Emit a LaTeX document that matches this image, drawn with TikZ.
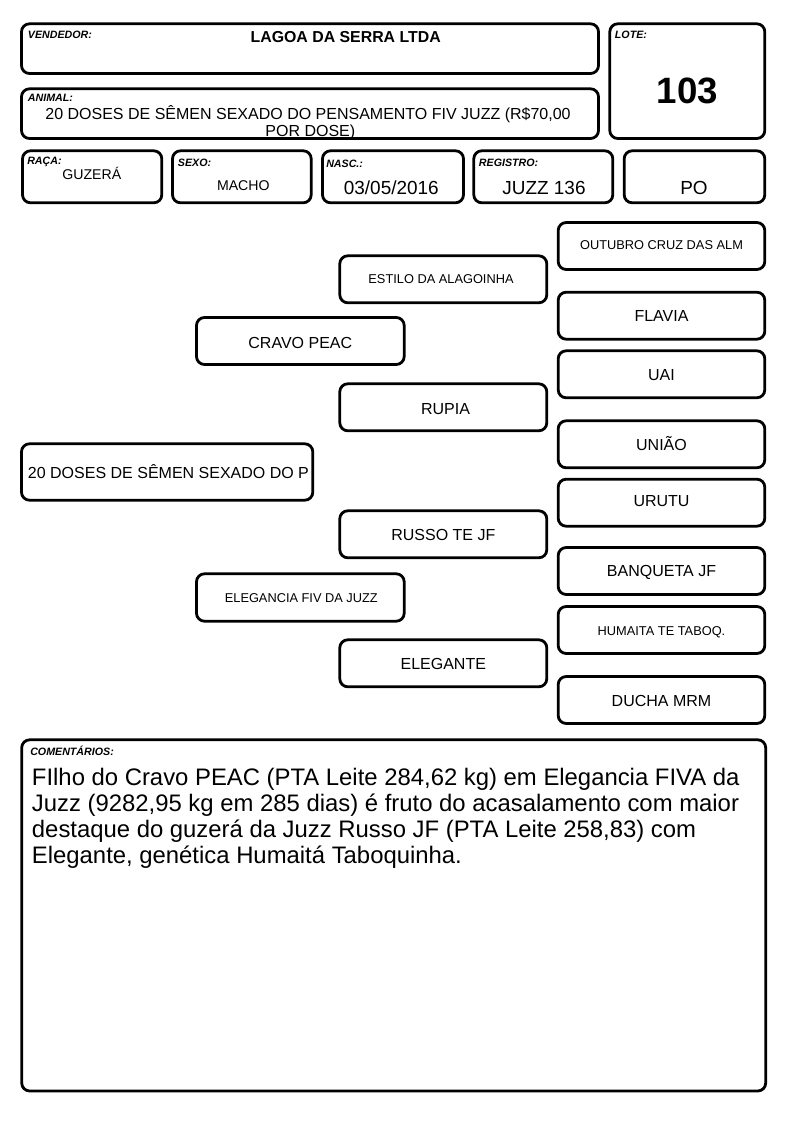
\documentclass[tikz,border=0pt]{standalone}
\usepackage{fontspec}
\setmainfont{Liberation Sans}
\usetikzlibrary{fit}
\tikzset{
  x=0.75pt, y=-0.75pt,
  box/.style={draw=black, line width=2.1pt, rounded corners=6pt, inner sep=0pt, fill=white},
  lbl/.style={anchor=base west, inner sep=0pt, font=\fontsize{8}{9}\selectfont\bfseries\itshape},
  big/.style={anchor=base, inner sep=0pt, font=\fontsize{12}{14}\selectfont},
  small/.style={anchor=base, inner sep=0pt, font=\fontsize{9.6}{11}\selectfont},
  mid/.style={anchor=base, inner sep=0pt, font=\fontsize{10.6}{12}\selectfont},
  large/.style={anchor=base, inner sep=0pt, font=\fontsize{14.2}{16}\selectfont},
}
\newcommand{\bx}[5]{\node[box, fit={(#2,#3) (#4,#5)}] (#1) {};}
\begin{document}
\begin{tikzpicture}
\useasboundingbox (0,0) rectangle (794,1123);
% header boxes
\bx{vend}{21.5}{23.8}{598.5}{73.5}
\bx{anim}{21.5}{88.8}{598.5}{138.5}
\bx{lote}{609.8}{23.8}{764.8}{138.5}
\bx{raca}{22.5}{150.8}{161.8}{202.8}
\bx{sexo}{172.5}{150.8}{311.2}{202.8}
\bx{nasc}{322.5}{150.8}{463.5}{202.8}
\bx{reg}{473.8}{150.8}{612.8}{202.8}
\bx{po}{624.2}{150.8}{764.8}{202.8}
\node[lbl] (vendl) at (27.7,39) {VENDEDOR:};
\node[anchor=base, inner sep=0pt, font=\fontsize{11.9}{14}\selectfont\bfseries] (vendt) at (345.7,43) {LAGOA DA SERRA LTDA};
\node[lbl] (animl) at (27.7,102) {ANIMAL:};
\node[big] (animt1) at (308,119.5) {20 DOSES DE SÊMEN SEXADO DO PENSAMENTO FIV JUZZ (R\$70,00};
\node[big] (animt2) at (310.3,136.5) {POR DOSE)};
\node[lbl] (lotel) at (614.7,39) {LOTE:};
\node[anchor=base, inner sep=0pt, font=\fontsize{27.5}{30}\selectfont\bfseries] (lotet) at (687.2,104) {103};
\node[lbl] (racal) at (27,164.5) {RAÇA:};
\node[mid] (racat) at (91.8,180) {GUZERÁ};
\node[lbl] (sexol) at (177.7,167) {SEXO:};
\node[mid] (sexot) at (243.3,191) {MACHO};
\node[lbl] (nascl) at (326,167.5) {NASC.:};
\node[large] (nasct) at (391.3,195) {03/05/2016};
\node[lbl] (regl) at (478.7,166.5) {REGISTRO:};
\node[large] (regt) at (544,195) {JUZZ 136};
\node[large] (pot) at (694,195) {PO};
% pedigree
\bx{main}{21.5}{443.8}{312.8}{500.2}
\node[big, anchor=base west] (maint) at (27.7,478.3) {20 DOSES DE SÊMEN SEXADO DO P};
\bx{cravo}{196.5}{317.5}{404.2}{364.5}
\node[big] (cravot) at (300.3,348.3) {CRAVO PEAC};
\bx{elegancia}{196.5}{573.8}{404.2}{621.2}
\node[small] (eleganciat) at (301.3,602.7) {ELEGANCIA FIV DA JUZZ};
\bx{estilo}{339.8}{255.8}{546.8}{302.8}
\node[small] (estilot) at (441,283.3) {ESTILO DA ALAGOINHA};
\bx{rupia}{339.8}{383.8}{546.8}{430.8}
\node[big] (rupiat) at (445.5,414.3) {RUPIA};
\bx{russo}{339.8}{510.8}{546.8}{557.8}
\node[big] (russot) at (443.3,540) {RUSSO TE JF};
\bx{elegante}{339.8}{639.8}{546.8}{686.8}
\node[big] (elegantet) at (443.3,669) {ELEGANTE};
\bx{outubro}{558.2}{222.5}{764.8}{269.5}
\node[small] (outubrot) at (661.5,249.3) {OUTUBRO CRUZ DAS ALM};
\bx{flavia}{558.2}{292.2}{764.8}{339.2}
\node[big] (flaviat) at (661.5,321) {FLAVIA};
\bx{uai}{558.2}{350.8}{764.8}{397.8}
\node[big] (uait) at (661.5,380) {UAI};
\bx{uniao}{558.2}{420.8}{764.8}{467.8}
\node[big] (uniaot) at (661.5,450) {UNIÃO};
\bx{urutu}{558.2}{479.2}{764.8}{526.2}
\node[big] (urutut) at (661.5,506.7) {URUTU};
\bx{banqueta}{558.2}{547.5}{764.8}{594.5}
\node[big] (banquetat) at (661.5,576) {BANQUETA JF};
\bx{humaita}{558.2}{606.5}{764.8}{653.5}
\node[small] (humaitat) at (661.5,635) {HUMAITA TE TABOQ.};
\bx{ducha}{558.2}{676.5}{764.8}{723.5}
\node[big] (duchat) at (661.5,706) {DUCHA MRM};
% comments
\bx{coment}{21.7}{739.8}{765.7}{1091}
\node[lbl] (comentl) at (30,755) {COMENTÁRIOS:};
\node[anchor=base west, inner sep=0pt, font=\fontsize{17.9}{19.5}\selectfont] (comentt) at (31.7,785) {\vtop{\hbox{FIlho do Cravo PEAC (PTA Leite 284,62 kg) em Elegancia FIVA da}\hbox{Juzz (9282,95 kg em 285 dias) é fruto do acasalamento com maior}\hbox{destaque do guzerá da Juzz Russo JF (PTA Leite 258,83) com}\hbox{Elegante, genética Humaitá Taboquinha.}}};
\end{tikzpicture}
\end{document}
